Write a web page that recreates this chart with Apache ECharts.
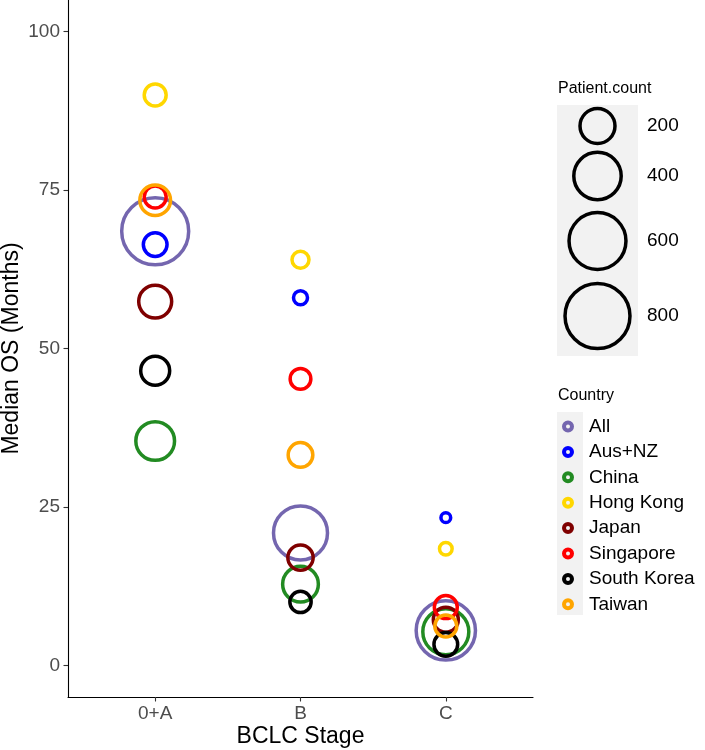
<!DOCTYPE html>
<html>
<head>
<meta charset="utf-8">
<script src="https://cdn.jsdelivr.net/npm/echarts@6/dist/echarts.min.js"></script>
<style>
html,body{margin:0;padding:0;background:#fff;}
#chart{width:705px;height:750px;}
</style>
</head>
<body>
<div id="chart"></div>
<script>
// ---- data ----
const stages = ['0+A', 'B', 'C'];
const countries = ['All', 'Aus+NZ', 'China', 'Hong Kong', 'Japan', 'Singapore', 'South Korea', 'Taiwan'];
const countryColors = ['#7466AF', '#0000FF', '#228B22', '#FFD700', '#7F0000', '#FF0000', '#000000', '#FFA500'];
// Median OS (months) per stage [0+A, B, C]
const osAll = [68.5, 20.9, 5.5];
const osAusNZ = [66.4, 58.0, 23.3];
const osChina = [35.4, 12.8, 5.3];
const osHongKong = [90.0, 64.0, 18.4];
const osJapan = [57.4, 17.0, 7.2];
const osSingapore = [73.9, 45.2, 9.2];
const osSouthKorea = [46.5, 10.0, 3.3];
const osTaiwan = [73.4, 33.2, 6.2];
// Patient counts per stage [0+A, B, C]
const nAll = [855, 534, 656];
const nAusNZ = [78, 18, 5];
const nChina = [253, 210, 374];
const nHongKong = [64, 32, 13];
const nJapan = [174, 92, 89];
const nSingapore = [64, 55, 72];
const nSouthKorea = [128, 59, 78];
const nTaiwan = [147, 86, 64];
const yTicks = [0, 25, 50, 75, 100];
const sizeBreaks = [200, 400, 600, 800];

const osSeries = [osAll, osAusNZ, osChina, osHongKong, osJapan, osSingapore, osSouthKorea, osTaiwan];
const nSeries = [nAll, nAusNZ, nChina, nHongKong, nJapan, nSingapore, nSouthKorea, nTaiwan];

// ---- rendering ----
const FONT = '"Liberation Sans", Arial, Helvetica, sans-serif';
const STROKE = 3.5;
function sizeOf(n) { return 5 + 2.12 * Math.sqrt(n); }

const series = countries.map((c, i) => ({
  name: c,
  type: 'scatter',
  data: stages.map((s, j) => [j, osSeries[i][j], nSeries[i][j]]),
  symbol: 'circle',
  symbolSize: v => sizeOf(v[2]),
  itemStyle: { color: 'rgba(0,0,0,0)', borderColor: countryColors[i], borderWidth: STROKE, opacity: 1 },
  emphasis: { disabled: true },
  z: 2
}));

// size legend graphics
const sizeLegendY = [126, 176, 241, 316];
const graphics = [
  { type: 'text', left: 558, top: 81, style: { text: 'Patient.count', font: '16px ' + FONT, fill: '#000' } },
  { type: 'rect', shape: { x: 557, y: 105, width: 81, height: 251 }, style: { fill: '#F2F2F2' }, z: 0 },
  { type: 'text', left: 558, top: 388, style: { text: 'Country', font: '16px ' + FONT, fill: '#000' } },
  { type: 'rect', shape: { x: 557, y: 412, width: 26, height: 203 }, style: { fill: '#F2F2F2' }, z: 0 }
];
sizeBreaks.forEach((b, k) => {
  graphics.push({ type: 'circle', shape: { cx: 597.5, cy: sizeLegendY[k], r: sizeOf(b) / 2 },
    style: { fill: 'none', stroke: '#000', lineWidth: STROKE }, z: 1 });
  graphics.push({ type: 'text', x: 647, y: sizeLegendY[k],
    style: { text: String(b), font: '19px ' + FONT, fill: '#000', verticalAlign: 'middle' }, z: 1 });
});

const chart = echarts.init(document.getElementById('chart'), null, { renderer: 'canvas' });
chart.setOption({
  animation: false,
  backgroundColor: '#fff',
  textStyle: { fontFamily: FONT },
  grid: { left: 68, right: 172, top: 0, bottom: 53, containLabel: false, outerBoundsMode: 'none' },
  xAxis: {
    type: 'value', min: -0.6, max: 2.6,
    name: 'BCLC Stage', nameLocation: 'middle', nameGap: 28, nameMoveOverlap: false,
    nameTextStyle: { fontSize: 23, color: '#000', fontFamily: FONT },
    axisLine: { show: true, onZero: false, lineStyle: { color: '#000', width: 1.1 } },
    axisTick: { show: true, customValues: [0, 1, 2], length: 4.5, lineStyle: { color: '#333', width: 1.1 } },
    axisLabel: { customValues: [0, 1, 2], formatter: v => stages[Math.round(v)], fontSize: 19, color: '#4D4D4D', margin: 7, fontFamily: FONT },
    splitLine: { show: false }
  },
  yAxis: {
    type: 'value', min: -5, max: 105,
    name: 'Median OS (Months)', nameLocation: 'middle', nameGap: 45, nameMoveOverlap: false,
    nameTextStyle: { fontSize: 23, color: '#000', fontFamily: FONT },
    axisLine: { show: true, onZero: false, lineStyle: { color: '#000', width: 1.1 } },
    axisTick: { show: true, customValues: yTicks, length: 4.5, lineStyle: { color: '#333', width: 1.1 } },
    axisLabel: { customValues: yTicks, fontSize: 19, color: '#4D4D4D', margin: 8, fontFamily: FONT },
    splitLine: { show: false }
  },
  legend: {
    orient: 'vertical', left: 557, top: 412,
    itemWidth: 26, itemHeight: 8, itemGap: 6.4,
    icon: 'circle',
    data: countries.map((c, i) => ({ name: c, itemStyle: { color: 'rgba(0,0,0,0)', borderColor: countryColors[i], borderWidth: 4 } })),
    textStyle: { fontSize: 19, color: '#000', fontFamily: FONT, lineHeight: 19, padding: [0, 0, 0, 3] },
    selectedMode: false
  },
  graphic: graphics,
  series: series
});
</script>
</body>
</html>
